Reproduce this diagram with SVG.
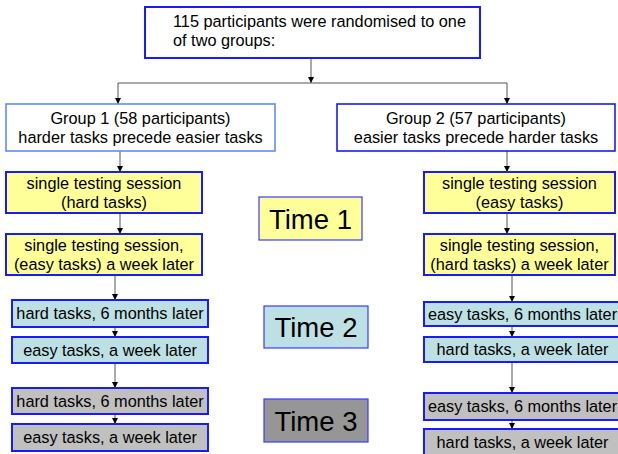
<svg xmlns="http://www.w3.org/2000/svg" width="618" height="454" viewBox="0 0 618 454">
<style>
  text { font-family: "Liberation Sans", Arial, sans-serif; fill: #000; }
  .t { font-size: 16.3px; text-anchor: middle; }
  .tl { font-size: 16.3px; }
  .big { font-size: 27.5px; text-anchor: middle; }
  .box { stroke: #1a1aff; stroke-width: 2; }
  .grp1 { fill: #fff; stroke: #5a8cff; stroke-width: 1.6; }
  .grp2 { fill: #fff; stroke: #1a1aff; stroke-width: 1.6; }
  .tbox { stroke: #3a3aff; stroke-width: 1.2; }
  .yel { fill: #ffff99; }
  .blu { fill: #bde0e4; }
  .gry { fill: #c0c0c0; }
  .dgr { fill: #969696; }
  .c { stroke: #555; stroke-width: 1; fill: none; }
  .ca { stroke: #555; stroke-width: 1; fill: none; marker-end: url(#ah); }
</style>
<defs>
  <marker id="ah" markerUnits="userSpaceOnUse" markerWidth="6" markerHeight="6" refX="6" refY="3" orient="auto">
    <path d="M0,0 L6,3 L0,6 z" fill="#000"/>
  </marker>
</defs>

<g id="connectors">
  <line class="ca" x1="311" y1="58" x2="311" y2="83"/>
  <line class="c" x1="118" y1="83" x2="507" y2="83" stroke="#888"/>
  <line class="ca" x1="118" y1="83" x2="118" y2="104"/>
  <line class="ca" x1="507" y1="83" x2="507" y2="104"/>
  <line class="ca" x1="120" y1="151" x2="120" y2="172"/>
  <line class="ca" x1="120" y1="213" x2="120" y2="234"/>
  <line class="ca" x1="115" y1="275" x2="115" y2="300"/>
  <line class="ca" x1="115" y1="327" x2="115" y2="337"/>
  <line class="ca" x1="115" y1="363" x2="115" y2="388"/>
  <line class="ca" x1="115" y1="414" x2="115" y2="424"/>
  <line class="ca" x1="507" y1="151" x2="507" y2="172"/>
  <line class="ca" x1="507" y1="213" x2="507" y2="234"/>
  <line class="ca" x1="512" y1="275" x2="512" y2="302"/>
  <line class="ca" x1="512" y1="326" x2="512" y2="337"/>
  <line class="ca" x1="512" y1="362" x2="512" y2="393"/>
  <line class="ca" x1="512" y1="420" x2="512" y2="429"/>
</g>

<g id="top">
  <rect class="box" fill="#fff" x="145" y="7" width="335" height="51"/>
  <text class="tl" x="173" y="27">115 participants were randomised to one</text>
  <text class="tl" x="173" y="45.5">of two groups:</text>
</g>

<g id="group1">
  <rect class="grp1" x="6" y="104" width="269" height="47"/>
  <text class="t" x="140.5" y="124">Group 1 (58 participants)</text>
  <text class="t" x="140.5" y="143">harder tasks precede easier tasks</text>
</g>
<g id="group2">
  <rect class="grp2" x="337" y="104" width="278" height="47"/>
  <text class="t" x="476" y="124">Group 2 (57 participants)</text>
  <text class="t" x="476" y="143">easier tasks precede harder tasks</text>
</g>

<g id="g1-session1">
  <rect class="box yel" x="6" y="172" width="196" height="41"/>
  <text class="t" x="104" y="189">single testing session</text>
  <text class="t" x="104" y="208">(hard tasks)</text>
</g>
<g id="g1-session2">
  <rect class="box yel" x="6" y="234" width="196" height="41"/>
  <text class="t" x="104" y="251">single testing session,</text>
  <text class="t" x="104" y="270">(easy tasks) a week later</text>
</g>
<g id="g2-session1">
  <rect class="box yel" x="424" y="172" width="191" height="41"/>
  <text class="t" x="519.5" y="189">single testing session</text>
  <text class="t" x="519.5" y="208">(easy tasks)</text>
</g>
<g id="g2-session2">
  <rect class="box yel" x="424" y="234" width="191" height="41"/>
  <text class="t" x="519.5" y="251">single testing session,</text>
  <text class="t" x="519.5" y="270">(hard tasks) a week later</text>
</g>

<g id="time1">
  <rect class="tbox yel" x="259" y="197" width="103" height="43"/>
  <text class="big" x="310.5" y="228.5">Time 1</text>
</g>
<g id="time2">
  <rect class="tbox blu" x="264" y="306" width="104" height="42"/>
  <text class="big" x="316" y="337">Time 2</text>
</g>
<g id="time3">
  <rect class="tbox dgr" x="264" y="399" width="104" height="43"/>
  <text class="big" x="316" y="430.5">Time 3</text>
</g>

<g id="g1-t2a">
  <rect class="box blu" x="12" y="300" width="196" height="27"/>
  <text class="t" x="110" y="319.3">hard tasks, 6 months later</text>
</g>
<g id="g1-t2b">
  <rect class="box blu" x="12" y="337" width="196" height="26"/>
  <text class="t" x="110" y="355.8">easy tasks, a week later</text>
</g>
<g id="g1-t3a">
  <rect class="box gry" x="12" y="388" width="196" height="26"/>
  <text class="t" x="110" y="406.8">hard tasks, 6 months later</text>
</g>
<g id="g1-t3b">
  <rect class="box gry" x="12" y="424" width="196" height="27"/>
  <text class="t" x="110" y="443.3">easy tasks, a week later</text>
</g>

<g id="g2-t2a">
  <rect class="box blu" x="424" y="302" width="197" height="24"/>
  <text class="t" x="522.5" y="319.5">easy tasks, 6 months later</text>
</g>
<g id="g2-t2b">
  <rect class="box blu" x="424" y="337" width="197" height="25"/>
  <text class="t" x="522.5" y="355.3">hard tasks, a week later</text>
</g>
<g id="g2-t3a">
  <rect class="box gry" x="424" y="393" width="197" height="27"/>
  <text class="t" x="522.5" y="412.3">easy tasks, 6 months later</text>
</g>
<g id="g2-t3b">
  <rect class="box gry" x="424" y="429" width="197" height="31"/>
  <text class="t" x="522.5" y="448">hard tasks, a week later</text>
</g>
</svg>
